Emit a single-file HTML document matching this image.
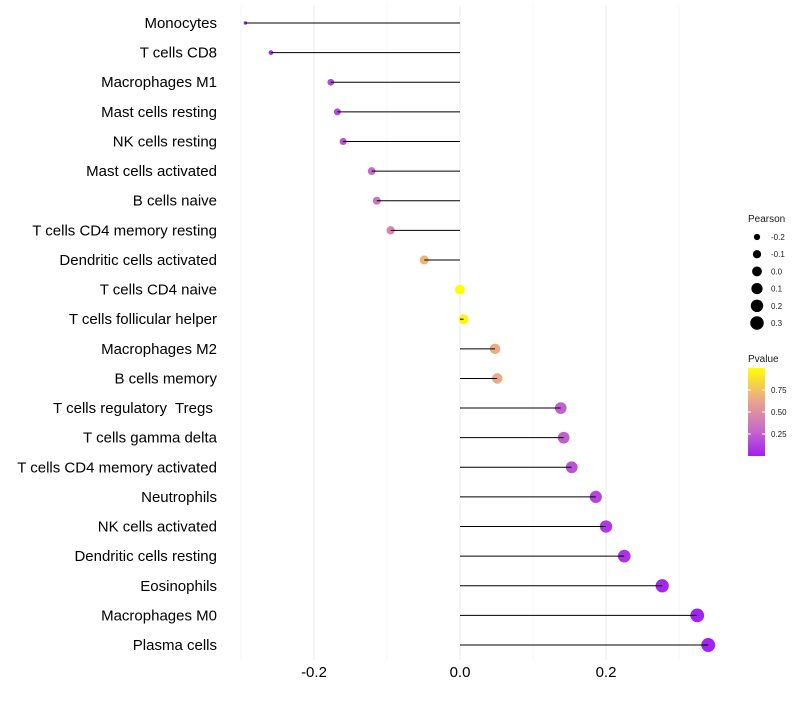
<!DOCTYPE html>
<html><head><meta charset="utf-8"><style>body{margin:0;background:#fff}svg{font-family:"Liberation Sans",sans-serif}</style></head>
<body>
<svg id="c" width="800" height="700"></svg>
<script>
const cells=["Monocytes","T cells CD8","Macrophages M1","Mast cells resting","NK cells resting","Mast cells activated","B cells naive","T cells CD4 memory resting","Dendritic cells activated","T cells CD4 naive","T cells follicular helper","Macrophages M2","B cells memory","T cells regulatory  Tregs ","T cells gamma delta","T cells CD4 memory activated","Neutrophils","NK cells activated","Dendritic cells resting","Eosinophils","Macrophages M0","Plasma cells"];
const pearson=[-0.294,-0.259,-0.177,-0.168,-0.160,-0.121,-0.114,-0.095,-0.049,0.0,0.005,0.048,0.051,0.138,0.142,0.153,0.186,0.2,0.225,0.277,0.325,0.340];
const pvalue=[0.02,0.05,0.15,0.17,0.2,0.3,0.35,0.45,0.7,0.99,0.96,0.66,0.66,0.25,0.25,0.2,0.15,0.1,0.08,0.03,0.01,0.01];
const xTicks=[-0.2,0.0,0.2];
const xTickLabels=["-0.2","0.0","0.2"];
const sizeLegend=[-0.2,-0.1,0.0,0.1,0.2,0.3];
const sizeLegendLabels=["-0.2","-0.1","0.0","0.1","0.2","0.3"];
const colorTicks=[0.25,0.5,0.75];
const colorTickLabels=["0.25","0.50","0.75"];
const NS="http://www.w3.org/2000/svg",svg=document.getElementById('c');
function el(t,a,p){const e=document.createElementNS(NS,t);for(const k in a)e.setAttribute(k,a[k]);(p||svg).appendChild(e);return e;}
const xs=v=>460+v*730, ys=i=>23+i*29.62, rs=v=>Math.sqrt(Math.max(2,3+(v+0.294)*72));
const stops=[[0,[160,32,240]],[0.3,[200,108,200]],[0.65,[235,170,135]],[1,[255,255,0]]];
function col(p){for(let i=1;i<stops.length;i++){if(p<=stops[i][0]){const a=stops[i-1],b=stops[i],t=(p-a[0])/(b[0]-a[0]);return 'rgb('+a[1].map((c,j)=>Math.round(c+(b[1][j]-c)*t)).join(',')+')';}}return 'rgb(255,255,0)';}
[-0.3,-0.1,0.1,0.3].forEach(v=>{const g=el('line',{x1:xs(v),x2:xs(v),y1:5,y2:660,stroke:'#f2f2f2','stroke-width':0.6});});
xTicks.forEach((v,i)=>{const g=el('line',{x1:xs(v),x2:xs(v),y1:5,y2:660,stroke:'#ebebeb','stroke-width':1});
const t=el('text',{x:xs(v),y:677,'text-anchor':'middle','font-size':15,fill:'#000'});t.textContent=xTickLabels[i];});
cells.forEach((c,i)=>{const y=ys(i);
const t=el('text',{x:217,y:y+5,'text-anchor':'end','font-size':15,fill:'#000','xml:space':'preserve'});t.style.whiteSpace='pre';t.textContent=c;
const d=el('circle',{cx:xs(pearson[i]),cy:y,r:rs(pearson[i]),fill:col(pvalue[i])});
const l=el('line',{x1:xs(0),x2:xs(pearson[i]),y1:y,y2:y,stroke:'#000','stroke-width':1});});
let t=el('text',{x:748,y:222,'font-size':10,fill:'#1a1a1a'});t.textContent='Pearson';
sizeLegend.forEach((v,i)=>{const y=237+i*17.2;const c=el('circle',{cx:757,cy:y,r:rs(v),fill:'#000'});
const s=el('text',{x:771,y:y+3,'font-size':8,fill:'#1a1a1a'});s.textContent=sizeLegendLabels[i];});
t=el('text',{x:748,y:362,'font-size':10,fill:'#1a1a1a'});t.textContent='Pvalue';
const defs=el('defs',{});const gr=el('linearGradient',{id:'g',x1:0,y1:1,x2:0,y2:0},defs);stops.forEach(s=>el('stop',{offset:s[0],'stop-color':'rgb('+s[1].join(',')+')'},gr));
const bar=el('rect',{x:748,y:368,width:17,height:88,fill:'url(#g)'});
colorTicks.forEach((v,i)=>{const y=456-v*88;el('line',{x1:748,x2:751,y1:y,y2:y,stroke:'#fff'});el('line',{x1:762,x2:765,y1:y,y2:y,stroke:'#fff'});
const s=el('text',{x:771,y:y+3,'font-size':8,fill:'#1a1a1a'});s.textContent=colorTickLabels[i];});
</script>
</body></html>
